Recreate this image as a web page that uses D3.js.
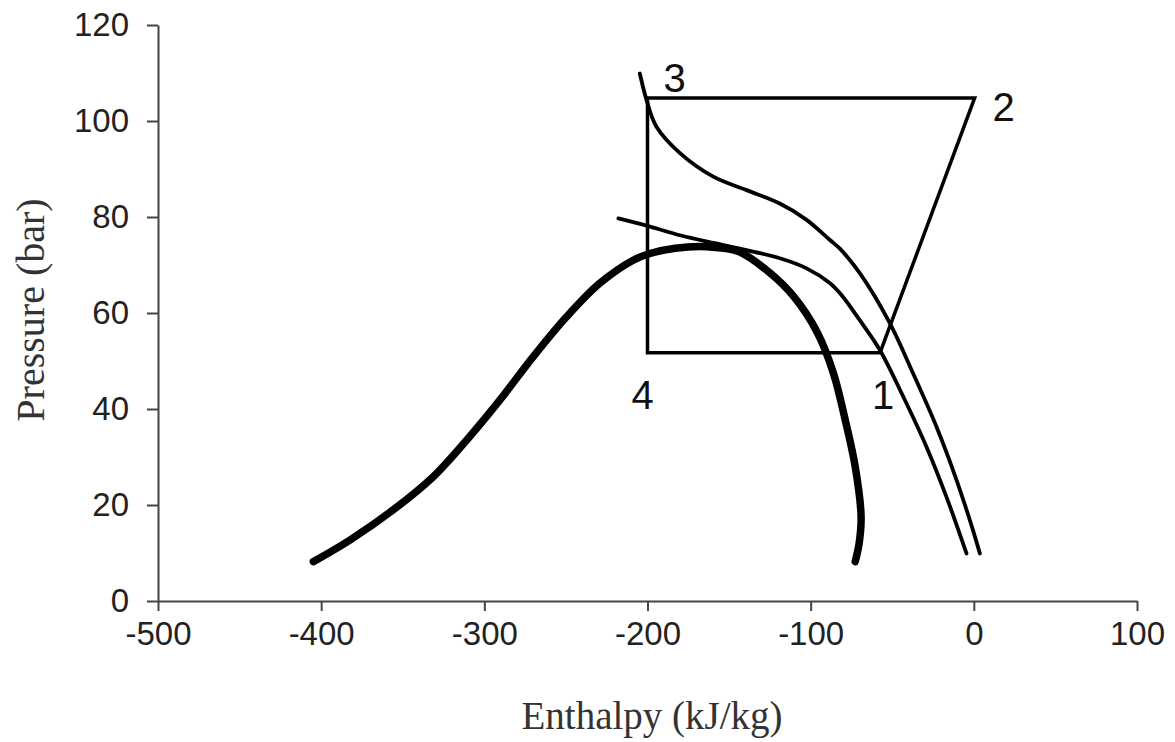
<!DOCTYPE html>
<html>
<head>
<meta charset="utf-8">
<script src="https://cdn.jsdelivr.net/npm/d3@7/dist/d3.min.js"></script>
<style>
  body { margin: 0; background: #fff; }
  svg { display: block; }
</style>
</head>
<body>
<div id="chart"></div>
<script>
// axis ticks
const xTicks = [-500, -400, -300, -200, -100, 0, 100];
const yTicks = [0, 20, 40, 60, 80, 100, 120];

// saturation dome (thick curve)
const domeH = [-404.8, -382.4, -355.8, -331.3, -310.9, -290.4, -270.0, -249.6, -229.2, -208.8, -198.5, -183, -163.6, -144.2, -124.8, -110.3, -95.7, -86.0, -78.8, -72.7, -69.1, -70.3, -72.7];
const domeP = [8.2, 12.7, 19.0, 25.9, 33.5, 41.9, 50.9, 59.2, 66.2, 71.0, 72.4, 73.5, 73.8, 72.8, 68.3, 63.4, 55.8, 47.4, 37.7, 28.0, 17.6, 12.0, 8.2];

// upper isotherm
const isoAH = [-204.7, -200.6, -194.5, -180.1, -159.7, -139.3, -118.9, -102.5, -88.2, -82.1, -69.9, -51.5, -37.2, -22.9, -10.6, -1.2, 3.7];
const isoAP = [109.9, 104.4, 98.8, 93.3, 88.4, 85.6, 82.8, 79.4, 75.2, 73.4, 68.3, 57.9, 47.4, 36.3, 25.2, 15.5, 9.9];

// lower isotherm
const isoBH = [-217.8, -198.5, -180.1, -159.7, -139.3, -118.9, -102.5, -88.5, -81.5, -69.9, -57.6, -43.3, -29.0, -16.8, -4.5];
const isoBP = [79.7, 78.0, 76.2, 74.6, 73.1, 71.4, 69.3, 66.3, 63.9, 58.5, 52.3, 42.6, 32.1, 21.7, 9.9];

// refrigeration cycle 1-2-3-4
const cycleLabels = ["1", "2", "3", "4"];
const cycleH = [-57.5, 0.5, -200, -200];
const cycleP = [51.7, 104.8, 104.8, 51.7];

const W = 1175, H = 742;
const svg = d3.select("#chart").append("svg")
  .attr("width", W).attr("height", H);

const x = d3.scaleLinear().domain([-500, 100]).range([158, 1137]);
const y = d3.scaleLinear().domain([0, 120]).range([601, 25]);

// axes (plain hyphen for negatives, like the original)
const fmt = function(d) { return String(d); };
const gx = svg.append("g")
  .attr("transform", "translate(0," + y(0) + ")")
  .call(d3.axisBottom(x).tickValues(xTicks).tickFormat(fmt).tickSize(10).tickSizeOuter(0).tickPadding(11));
const gy = svg.append("g")
  .attr("transform", "translate(" + x(-500) + ",0)")
  .call(d3.axisLeft(y).tickValues(yTicks).tickFormat(fmt).tickSize(11).tickSizeOuter(0).tickPadding(18));

[gx, gy].forEach(function(g) {
  g.select(".domain").attr("stroke", "#444").attr("stroke-width", 2);
  g.selectAll(".tick line").attr("stroke", "#444").attr("stroke-width", 2);
  g.selectAll(".tick text")
    .attr("fill", "#222")
    .style("font-family", "'Liberation Sans', Arial, sans-serif")
    .style("font-size", "33px");
});

// axis titles
svg.append("text")
  .attr("x", 652).attr("y", 729)
  .attr("text-anchor", "middle")
  .style("font-family", "'Liberation Serif', 'Times New Roman', serif")
  .style("font-size", "39px")
  .attr("fill", "#333")
  .text("Enthalpy (kJ/kg)");

svg.append("text")
  .attr("transform", "translate(44,310) rotate(-90)")
  .attr("text-anchor", "middle")
  .style("font-family", "'Liberation Serif', 'Times New Roman', serif")
  .style("font-size", "40px")
  .attr("fill", "#333")
  .text("Pressure (bar)");

function pts(hs, ps) {
  return hs.map(function(h, i) { return [h, ps[i]]; });
}

const line = d3.line()
  .x(function(d) { return x(d[0]); })
  .y(function(d) { return y(d[1]); })
  .curve(d3.curveCatmullRom.alpha(0.5));

// dome
svg.append("path")
  .datum(pts(domeH, domeP))
  .attr("d", line)
  .attr("fill", "none").attr("stroke", "#000")
  .attr("stroke-width", 7.5).attr("stroke-linecap", "round");

// isotherms
[[isoAH, isoAP], [isoBH, isoBP]].forEach(function(c) {
  svg.append("path")
    .datum(pts(c[0], c[1]))
    .attr("d", line)
    .attr("fill", "none").attr("stroke", "#000")
    .attr("stroke-width", 3.8).attr("stroke-linecap", "round");
});

// cycle
const cyc = pts(cycleH, cycleP);
svg.append("path")
  .datum(cyc)
  .attr("d", d3.line().x(function(d) { return x(d[0]); }).y(function(d) { return y(d[1]); }).curve(d3.curveLinearClosed))
  .attr("fill", "none").attr("stroke", "#000")
  .attr("stroke-width", 3.5).attr("stroke-linejoin", "miter");

const offs = [[3, 42], [29, 9], [27, -20], [-5, 42]];
svg.selectAll(".plabel")
  .data(cycleLabels)
  .enter().append("text")
  .attr("class", "plabel")
  .attr("x", function(d, i) { return x(cycleH[i]) + offs[i][0]; })
  .attr("y", function(d, i) { return y(cycleP[i]) + offs[i][1]; })
  .attr("text-anchor", "middle")
  .attr("dominant-baseline", "central")
  .style("font-family", "'Liberation Sans', Arial, sans-serif")
  .style("font-size", "40px")
  .attr("fill", "#111")
  .text(function(d) { return d; });
</script>
</body>
</html>
